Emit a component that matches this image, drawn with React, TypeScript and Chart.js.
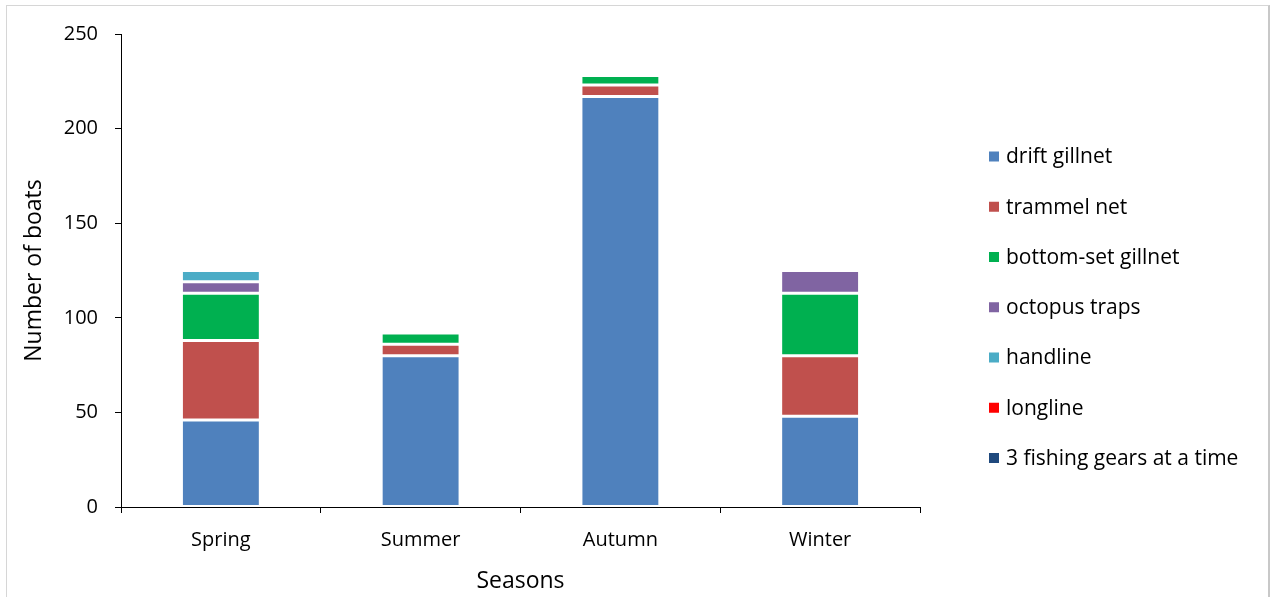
import React, { useEffect, useRef } from 'react';
import { Chart, registerables } from 'chart.js';

Chart.register(...registerables);

// ---- data ----
const seasons = ['Spring', 'Summer', 'Autumn', 'Winter'];
const gearNames = [
  'drift gillnet',
  'trammel net',
  'bottom-set gillnet',
  'octopus traps',
  'handline',
  'longline',
  '3 fishing gears at a time',
];
const driftGillnet = [46, 80, 217, 48];
const trammelNet = [42, 6, 6, 32];
const bottomSetGillnet = [25, 6, 5, 33];
const octopusTraps = [6, 0, 0, 12];
const handline = [6, 0, 0, 0];
const longline = [0, 0, 0, 0];
const threeGears = [0, 0, 0, 0];
const gearColors = ['#4F81BD', '#C0504D', '#00B050', '#8064A2', '#4BACC6', '#FF0000', '#1F497D'];
const yMin = 0;
const yMax = 250;
const yStep = 50;

const seriesValues = [driftGillnet, trammelNet, bottomSetGillnet, octopusTraps, handline, longline, threeGears];

const FONT = '"Open Sans", "Liberation Sans", sans-serif';

// legend layout
const LEGEND_X = 989;
const LEGEND_Y0 = 156.5;
const LEGEND_STEP = 50.25;

const sideLegend = {
  id: 'sideLegend',
  afterDraw(chart: any) {
    const ctx = chart.ctx;
    ctx.save();
    ctx.font = `21px ${FONT}`;
    ctx.textBaseline = 'middle';
    ctx.textAlign = 'left';
    chart.data.datasets.forEach((ds: any, i: number) => {
      const y = LEGEND_Y0 + i * LEGEND_STEP;
      ctx.fillStyle = ds.backgroundColor;
      ctx.fillRect(LEGEND_X, y - 5, 10, 10);
      ctx.fillStyle = '#000';
      ctx.fillText(ds.label, LEGEND_X + 17, y + 1);
    });
    ctx.restore();
  },
};

export default function App() {
  const ref = useRef<HTMLCanvasElement | null>(null);

  useEffect(() => {
    if (!ref.current) return;
    const chart = new Chart(ref.current, {
      type: 'bar',
      data: {
        labels: seasons,
        datasets: seriesValues.map((vals, i) => ({
          label: gearNames[i],
          data: vals,
          backgroundColor: gearColors[i],
          borderColor: '#ffffff',
          borderWidth: 1.5,
          borderSkipped: false,
          barPercentage: 0.395,
          categoryPercentage: 1,
        })),
      },
      options: {
        animation: false,
        responsive: false,
        devicePixelRatio: 1,
        layout: { padding: { top: 34, right: 351, bottom: 0, left: 0 } },
        plugins: {
          legend: { display: false },
          tooltip: { enabled: false },
        },
        scales: {
          x: {
            stacked: true,
            offset: true,
            grid: {
              display: true,
              drawOnChartArea: false,
              drawTicks: true,
              tickLength: 6,
              color: '#000',
              offset: true,
            },
            border: { display: true, color: '#000', width: 1 },
            ticks: { color: '#000', font: { family: FONT, size: 20 }, padding: 15 },
            title: {
              display: true,
              text: 'Seasons',
              color: '#000',
              font: { family: FONT, size: 23 },
              padding: { top: 0, bottom: 2 },
            },
            afterFit: (s: any) => {
              s.height = 90;
            },
          },
          y: {
            stacked: true,
            min: yMin,
            max: yMax,
            grid: {
              display: true,
              drawOnChartArea: false,
              drawTicks: true,
              tickLength: 6,
              color: '#000',
            },
            border: { display: true, color: '#000', width: 1 },
            ticks: { stepSize: yStep, color: '#000', font: { family: FONT, size: 20 }, padding: 17 },
            title: {
              display: true,
              text: 'Number of boats',
              color: '#000',
              font: { family: FONT, size: 23 },
              padding: { top: 20.5, bottom: 0 },
            },
            afterFit: (s: any) => {
              s.width = 121;
            },
          },
        },
      },
      plugins: [sideLegend],
    });
    return () => chart.destroy();
  }, []);

  return (
    <div
      style={{
        position: 'fixed',
        left: 0,
        top: 0,
        width: 1271,
        height: 597,
        overflow: 'hidden',
        background: '#fff',
      }}
    >
      <div
        style={{
          position: 'absolute',
          left: 6,
          top: 5,
          width: 1264,
          height: 700,
          boxSizing: 'border-box',
          borderTop: '1px solid #d6d6d6',
          borderLeft: '1px solid #d6d6d6',
          borderRight: '2px solid #c8c8c8',
        }}
      />
      <canvas
        ref={ref}
        width={1271}
        height={597}
        style={{ position: 'absolute', left: 0, top: 0, width: 1271, height: 597 }}
      />
    </div>
  );
}
